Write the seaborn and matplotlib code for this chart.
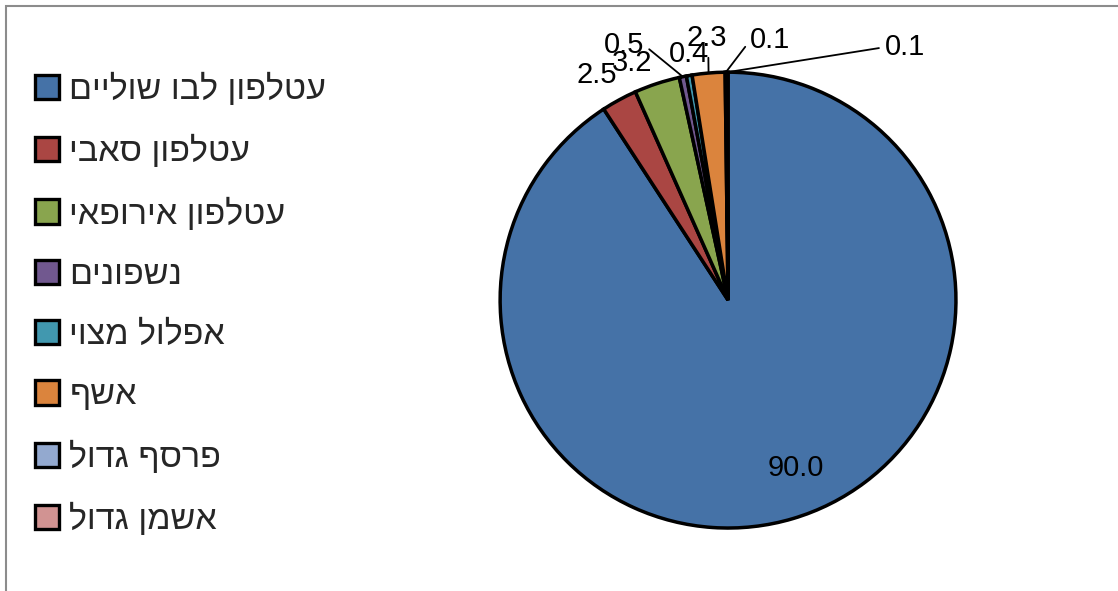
import matplotlib
matplotlib.use("Agg")
import matplotlib.pyplot as plt
from matplotlib.patches import Patch, Rectangle
import numpy as np
import seaborn as sns

# ---- data ----
species = ["עטלפון לבו שוליים", "עטלפון סאבי", "עטלפון אירופאי", "נשפונים",
           "אפלול מצוי", "אשף", "פרסף גדול", "אשמן גדול"]
values = [90.0, 2.5, 3.2, 0.5, 0.4, 2.3, 0.1, 0.1]
colors = ["#4572A7", "#AA4643", "#89A54E", "#71588F",
          "#4198AF", "#DB843D", "#93A9CF", "#D19392"]

# label placement (style): offset from wedge edge point, in pie-radius units
label_offsets = [(0.015, 0.22), (-0.10, 0.11), (-0.11, 0.09), (-0.26, 0.14),
                 (0.0, 0.095), (-0.01, 0.155), (0.195, 0.14), (0.78, 0.11)]
leader = [None, None, None, (1, 0.5), None, (0.55, 0.0), (0, 0.5), (0, 0.5)]

sns.set_theme(style="white")
plt.rcParams["font.family"] = ["Liberation Sans", "DejaVu Sans"]


def rtl(s):
    return s[::-1]


fig = plt.figure(figsize=(11.18, 5.91), dpi=100)
ax = fig.add_axes([0.4452, 0.1027, 0.412, 0.779])
wedges, _ = ax.pie(values, colors=colors, startangle=90, counterclock=False,
                   radius=1.0,
                   wedgeprops=dict(edgecolor="black", linewidth=2.5))
ax.set_xlim(-1.01, 1.01)
ax.set_ylim(-1.01, 1.01)
ax.set_aspect("equal")
ax.axis("off")

for w, v, off, ld in zip(wedges, values, label_offsets, leader):
    th = np.deg2rad((w.theta1 + w.theta2) / 2)
    ex, ey = np.cos(th), np.sin(th)
    tx, ty = ex + off[0], ey + off[1]
    if ld is None:
        ax.text(tx, ty, f"{v:.1f}", ha="center", va="center", fontsize=21,
                color="black", clip_on=False)
    else:
        ax.annotate(f"{v:.1f}", xy=(ex, ey), xytext=(tx, ty), ha="center",
                    va="center", fontsize=21, color="black",
                    annotation_clip=False,
                    arrowprops=dict(arrowstyle="-", color="black", lw=1.3,
                                    shrinkA=2, shrinkB=0, relpos=ld))

handles = [Patch(facecolor=c, edgecolor="black", linewidth=2.4) for c in colors]
fig.legend(handles, [rtl(s) for s in species], loc="center left",
           bbox_to_anchor=(0.031, 0.485), frameon=False, fontsize=24.5,
           handlelength=0.72, handleheight=0.72, handletextpad=0.3,
           labelspacing=0.86, borderpad=0, borderaxespad=0)

fig.patches.append(Rectangle((0.0054, -0.5), 2, 1.4898, transform=fig.transFigure,
                             fill=False, edgecolor="#8c8c8c", lw=1.5))

fig.savefig("out.png", dpi=100)
